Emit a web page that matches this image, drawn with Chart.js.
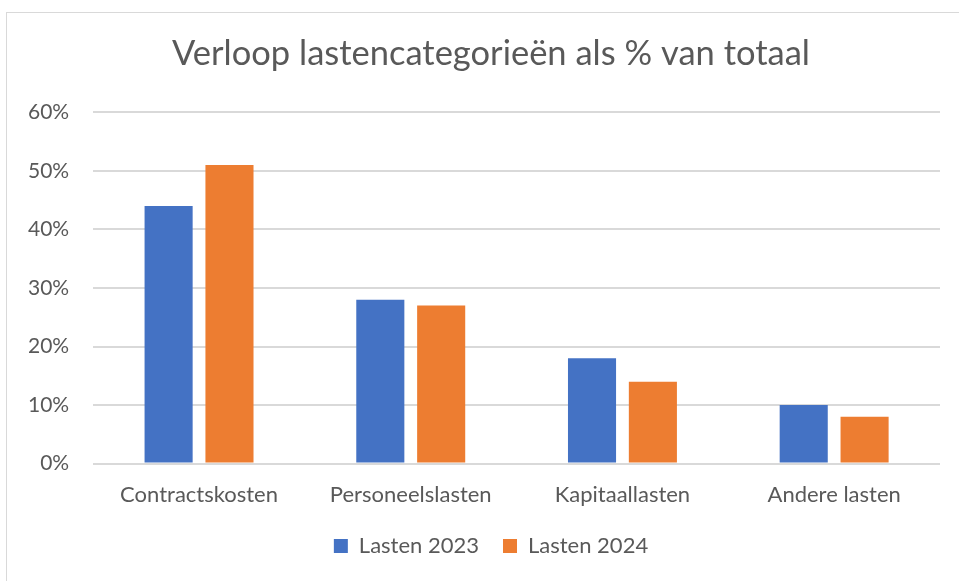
<!DOCTYPE html>
<html>
<head>
<meta charset="utf-8">
<script src="https://cdn.jsdelivr.net/npm/chart.js@4.4.1/dist/chart.umd.min.js"></script>
<style>
  html, body { margin: 0; padding: 0; background: #fff; overflow: hidden; }
  #frame {
    position: absolute; left: 6px; top: 12px; width: 990px; height: 600px;
    border: 1px solid #D9D9D9; box-sizing: border-box;
  }
  #wrap { position: absolute; left: 0; top: 0; width: 959px; height: 581px; overflow: hidden; }
</style>
</head>
<body>
<div id="frame"></div>
<!-- canvas a bit wider than the window so title and legend centre like the original -->
<div id="wrap"><canvas id="main-chart" width="978" height="581"></canvas></div>
<script>
// data
const categories = ["Contractskosten", "Personeelslasten", "Kapitaallasten", "Andere lasten"];
const lasten2023 = [44, 28, 18, 10];
const lasten2024 = [51, 27, 14, 8];
const yTicks = [0, 10, 20, 30, 40, 50, 60];

const TEXT = "#595959";
const FONT = "Lato";

const ctx = document.getElementById("main-chart").getContext("2d");
const chart = new Chart(ctx, {
  type: "bar",
  data: {
    labels: categories,
    datasets: [
      { label: "Lasten 2023", data: lasten2023, backgroundColor: "#4472C4",
        categoryPercentage: 0.575, barPercentage: 0.79 },
      { label: "Lasten 2024", data: lasten2024, backgroundColor: "#ED7D31",
        categoryPercentage: 0.575, barPercentage: 0.79 }
    ]
  },
  options: {
    responsive: false,
    animation: false,
    layout: { padding: { left: 4, right: 0, top: 33, bottom: 14 } },
    plugins: {
      title: {
        display: true,
        text: "Verloop lastencategorieën als % van totaal",
        color: TEXT,
        font: { family: FONT, size: 34.5, weight: "normal" },
        padding: { top: 0, bottom: 38 }
      },
      legend: {
        position: "bottom",
        labels: {
          color: TEXT,
          font: { family: FONT, size: 22 },
          boxWidth: 14, boxHeight: 14,
          padding: 24
        }
      },
      tooltip: { enabled: false }
    },
    scales: {
      x: {
        grid: { display: false, drawTicks: false },
        border: { display: false },
        ticks: { color: TEXT, font: { family: FONT, size: 22 }, padding: 18 },
        afterFit: axis => { axis.height -= 15; }
      },
      y: {
        min: yTicks[0],
        max: yTicks[yTicks.length - 1],
        afterBuildTicks: axis => { axis.ticks = yTicks.map(v => ({ value: v })); },
        grid: { color: "#D9D9D9", lineWidth: 2, drawTicks: false },
        border: { display: false },
        ticks: {
          color: TEXT, font: { family: FONT, size: 21 }, padding: 24,
          callback: v => v + "%"
        }
      },
      // empty right-hand spacer axis (keeps plot right edge at 940)
      spacer: {
        position: "right",
        display: true,
        grid: { display: false, drawTicks: false },
        border: { display: false },
        ticks: { display: false },
        afterFit: axis => { axis.width = 38; }
      }
    }
  }
});
</script>
</body>
</html>
